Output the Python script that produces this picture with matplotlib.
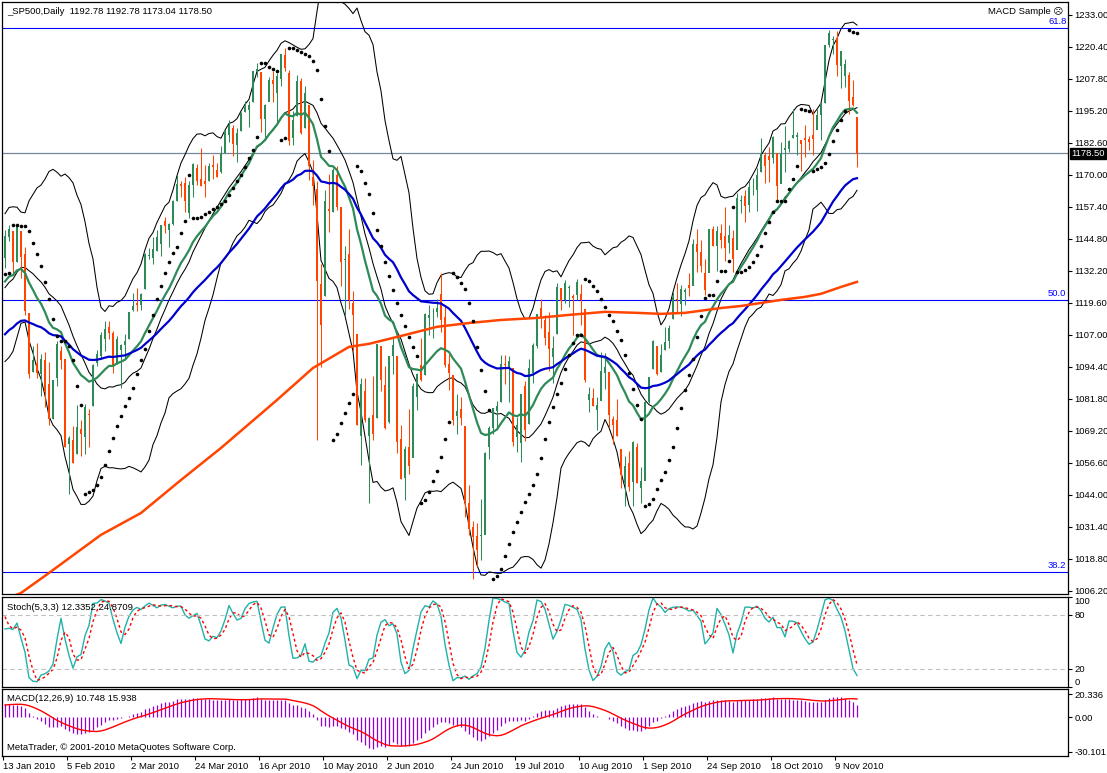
import numpy as np
import pandas as pd
import matplotlib
matplotlib.use("Agg")
import matplotlib.pyplot as plt

plt.rcParams['font.family'] = ['Liberation Sans', 'DejaVu Sans']

# daily bars 13 Jan 2010 .. 16 Nov 2010
opens = [1137.3, 1145.7, 1147.7, 1136.0, 1147.9, 1138.7, 1115.5, 1092.4, 1095.8, 1091.9, 1096.9, 1087.6,
         1073.9, 1090.1, 1100.7, 1097.3, 1064.1, 1065.5, 1060.1, 1069.7, 1067.1, 1075.9, 1079.1, 1096.1,
         1099.0, 1105.5, 1110.0, 1107.5, 1095.9, 1101.2, 1103.1,
         1105.4, 1117.0, 1119.4, 1119.1, 1125.1, 1138.4, 1137.6, 1140.2, 1143.0, 1151.7, 1148.5, 1150.8,
         1159.9, 1166.1, 1166.7, 1155.3, 1166.0, 1172.7, 1168.4, 1167.6, 1167.7, 1173.8, 1171.8,
         1171.2, 1178.7, 1186.0, 1188.2, 1181.8, 1187.5, 1194.9, 1195.9, 1198.7, 1210.8, 1210.2, 1192.1,
         1199.0, 1207.2, 1202.5, 1207.9, 1217.1, 1209.9, 1184.6, 1193.3, 1206.8,
         1188.6, 1197.5, 1169.2, 1164.4, 1127.0, 1122.3, 1156.4, 1155.4, 1170.0, 1157.2, 1136.5, 1138.8,
         1119.6, 1107.3, 1067.3, 1084.8, 1067.4, 1075.5, 1074.3, 1102.6,
         1087.3, 1073.0, 1098.8, 1098.4, 1065.8, 1050.8, 1062.8, 1058.8, 1082.7, 1095.0, 1091.2, 1114.0,
         1116.0, 1116.2, 1122.8, 1113.9, 1095.6, 1090.9, 1075.1, 1077.5, 1071.1, 1040.6,
         1031.1, 1027.7, 1028.1, 1028.5, 1062.9, 1070.5, 1077.2, 1080.7, 1095.6, 1094.5, 1093.9, 1066.9,
         1064.5, 1086.7, 1072.1, 1092.2, 1102.9, 1117.4, 1112.8, 1108.1, 1098.4,
         1107.5, 1125.3, 1121.0, 1125.8, 1122.1, 1122.8, 1122.9, 1116.9, 1081.5, 1082.2, 1077.5, 1081.2,
         1092.1, 1092.4, 1073.6, 1073.4, 1062.0, 1049.0, 1056.3, 1049.3, 1062.9, 1046.9,
         1049.7, 1080.7, 1093.6, 1102.6, 1092.4, 1101.2, 1104.6, 1113.4, 1121.2, 1119.4, 1123.9, 1126.4,
         1126.6, 1142.8, 1139.5, 1131.1, 1131.7, 1148.6, 1142.3, 1146.8, 1146.0,
         1143.5, 1145.0, 1140.7, 1159.8, 1161.6, 1158.4, 1165.3, 1164.3, 1171.3, 1177.8, 1177.5, 1176.8,
         1178.6, 1166.7, 1179.8, 1180.5, 1184.7, 1184.9, 1183.8, 1184.5, 1183.9,
         1185.7, 1187.9, 1193.8, 1198.3, 1221.2, 1223.2, 1223.6, 1213.1, 1209.1, 1209.1, 1200.4, 1192.78]
highs = [1148.4, 1150.4, 1147.8, 1149.9, 1147.9, 1141.6, 1115.5, 1102.7, 1103.7, 1099.5, 1100.2, 1096.5,
         1089.4, 1104.7, 1102.7, 1097.3, 1067.1, 1071.2, 1079.3, 1073.7, 1080.0, 1077.8, 1095.7, 1101.0,
         1108.2, 1112.4, 1112.3, 1108.6, 1106.4, 1103.5, 1107.2,
         1116.1, 1123.5, 1125.6, 1123.7, 1139.4, 1141.1, 1145.4, 1148.3, 1150.3, 1153.4, 1151.0, 1160.3,
         1169.8, 1167.8, 1169.2, 1167.8, 1174.7, 1174.2, 1180.7, 1173.9, 1174.9, 1177.8, 1174.6,
         1181.4, 1187.7, 1191.8, 1189.6, 1188.6, 1194.7, 1199.2, 1199.0, 1210.7, 1213.9, 1210.2, 1197.9,
         1208.6, 1211.0, 1210.3, 1217.3, 1219.8, 1211.4, 1195.1, 1209.4, 1208.0,
         1205.1, 1197.5, 1176.0, 1167.6, 1135.1, 1163.9, 1170.5, 1172.9, 1173.6, 1157.2, 1141.9, 1148.7,
         1124.3, 1107.3, 1090.2, 1090.0, 1074.8, 1090.8, 1103.5, 1102.6,
         1094.8, 1098.6, 1105.7, 1098.4, 1071.4, 1063.2, 1077.7, 1087.9, 1092.0, 1105.9, 1115.6, 1118.7,
         1117.7, 1121.0, 1131.2, 1118.5, 1099.6, 1090.9, 1083.6, 1082.6, 1071.1, 1048.1,
         1033.6, 1032.9, 1042.5, 1060.9, 1071.3, 1078.2, 1080.8, 1099.1, 1099.1, 1098.7, 1093.9, 1074.7,
         1083.9, 1089.0, 1097.5, 1103.7, 1115.0, 1121.0, 1114.7, 1115.9, 1106.4,
         1127.3, 1125.4, 1128.8, 1126.6, 1123.1, 1129.2, 1127.2, 1116.9, 1086.7, 1086.3, 1082.6, 1100.1,
         1099.8, 1092.4, 1075.1, 1081.6, 1062.0, 1059.4, 1061.5, 1065.2, 1064.4, 1055.1,
         1081.3, 1090.1, 1105.1, 1102.6, 1103.3, 1110.3, 1110.9, 1123.9, 1127.4, 1126.5, 1125.4, 1131.5,
         1144.9, 1148.6, 1144.4, 1136.8, 1148.9, 1149.9, 1150.0, 1150.8, 1157.2,
         1150.3, 1148.2, 1162.8, 1162.3, 1163.9, 1167.7, 1168.7, 1172.6, 1184.4, 1178.9, 1181.2, 1185.5,
         1178.6, 1182.9, 1189.4, 1183.9, 1196.1, 1187.1, 1183.8, 1189.5, 1185.5,
         1195.8, 1195.9, 1198.3, 1221.3, 1227.1, 1224.6, 1226.8, 1218.8, 1215.5, 1210.5, 1207.4, 1192.78]
lows = [1133.2, 1143.8, 1131.4, 1135.8, 1129.3, 1114.8, 1090.2, 1092.4, 1089.9, 1083.1, 1078.5, 1071.6,
        1073.9, 1087.0, 1093.5, 1063.0, 1044.5, 1056.5, 1060.1, 1059.3, 1060.1, 1063.0, 1079.1, 1094.7,
        1097.5, 1100.8, 1105.4, 1092.2, 1095.5, 1086.0, 1097.6,
        1105.4, 1116.5, 1116.6, 1116.7, 1125.1, 1136.8, 1134.9, 1140.1, 1138.1, 1147.0, 1141.5, 1150.4,
        1159.9, 1161.2, 1155.3, 1152.9, 1161.2, 1166.0, 1165.7, 1161.5, 1167.7, 1168.5, 1169.3,
        1170.7, 1178.7, 1182.8, 1177.3, 1175.1, 1187.2, 1194.7, 1188.8, 1198.7, 1208.5, 1186.8, 1183.7,
        1199.0, 1198.9, 1190.2, 1205.1, 1211.1, 1181.6, 1181.8, 1193.3, 1186.3,
        1188.6, 1168.1, 1158.2, 1065.8, 1094.2, 1122.3, 1147.7, 1155.4, 1156.1, 1126.1, 1115.0, 1117.2,
        1100.7, 1071.6, 1055.9, 1072.7, 1040.8, 1065.6, 1074.3, 1084.8,
        1069.9, 1072.4, 1091.8, 1060.5, 1050.3, 1042.2, 1052.3, 1058.8, 1077.5, 1089.0, 1091.2, 1107.1,
        1105.9, 1113.9, 1108.2, 1094.2, 1085.3, 1071.6, 1067.9, 1071.5, 1035.2, 1028.3,
        1010.9, 1015.9, 1018.4, 1028.5, 1058.2, 1068.1, 1070.5, 1080.7, 1087.7, 1080.5, 1063.3, 1061.1,
        1056.9, 1065.3, 1072.1, 1087.9, 1101.8, 1109.8, 1103.1, 1092.8, 1088.0,
        1107.5, 1116.8, 1119.5, 1118.0, 1107.0, 1120.9, 1111.0, 1088.6, 1076.7, 1079.0, 1069.5, 1081.2,
        1085.8, 1070.7, 1063.9, 1067.1, 1046.7, 1039.8, 1045.4, 1039.7, 1048.8, 1040.9,
        1049.7, 1080.4, 1093.6, 1091.2, 1092.4, 1101.2, 1101.7, 1113.4, 1115.6, 1114.6, 1118.9, 1122.4,
        1126.6, 1131.9, 1131.6, 1122.8, 1131.7, 1142.0, 1132.1, 1141.1, 1136.1,
        1139.4, 1131.9, 1140.7, 1154.9, 1151.4, 1155.6, 1162.0, 1155.7, 1171.3, 1166.7, 1167.1, 1174.6,
        1159.7, 1166.7, 1171.2, 1179.0, 1184.7, 1177.7, 1171.7, 1177.1, 1179.7,
        1177.7, 1187.9, 1183.6, 1198.3, 1220.3, 1217.5, 1208.9, 1204.3, 1204.5, 1194.1, 1197.2, 1173.04]
closes = [1145.7, 1148.5, 1136.0, 1150.2, 1138.0, 1116.5, 1091.8, 1096.8, 1092.2, 1097.5, 1084.5, 1073.9,
          1089.2, 1103.3, 1097.3, 1063.1, 1066.2, 1056.7, 1070.5, 1068.1, 1078.5, 1075.5, 1094.9, 1099.5,
          1106.8, 1109.2, 1108.0, 1094.6, 1105.2, 1102.9, 1104.5,
          1115.7, 1118.3, 1118.8, 1123.0, 1138.7, 1138.5, 1140.5, 1145.6, 1150.2, 1150.0, 1150.5, 1159.5,
          1166.2, 1165.8, 1159.9, 1165.8, 1174.2, 1167.7, 1165.7, 1166.6, 1173.2, 1173.3, 1169.4,
          1178.1, 1187.4, 1189.4, 1182.5, 1186.4, 1194.4, 1196.5, 1197.3, 1210.7, 1211.7, 1192.1, 1197.5,
          1207.2, 1205.9, 1208.7, 1217.3, 1212.1, 1183.7, 1191.4, 1206.8, 1186.7,
          1202.3, 1173.6, 1165.9, 1128.2, 1110.9, 1159.7, 1155.8, 1171.7, 1157.4, 1135.7, 1136.9, 1120.8,
          1115.1, 1071.6, 1087.7, 1073.7, 1074.0, 1068.0, 1103.1, 1089.4,
          1070.7, 1098.4, 1102.8, 1064.9, 1050.5, 1062.0, 1055.7, 1086.8, 1091.6, 1089.6, 1115.2, 1114.6,
          1116.0, 1117.5, 1113.2, 1095.3, 1092.0, 1073.7, 1076.8, 1074.6, 1041.2, 1030.7,
          1027.4, 1022.6, 1028.1, 1060.3, 1070.3, 1078.0, 1078.8, 1095.3, 1095.2, 1096.5, 1064.9, 1071.3,
          1083.5, 1069.6, 1093.7, 1102.7, 1115.0, 1113.8, 1106.1, 1101.5, 1101.6,
          1125.9, 1120.5, 1127.2, 1125.8, 1121.6, 1127.8, 1121.1, 1089.5, 1083.6, 1079.3, 1079.4, 1092.5,
          1094.2, 1075.6, 1071.7, 1067.4, 1051.9, 1055.3, 1047.2, 1064.6, 1048.9, 1049.3,
          1080.3, 1090.1, 1104.5, 1091.8, 1098.9, 1104.2, 1109.6, 1121.9, 1121.1, 1125.1, 1124.7, 1125.6,
          1142.7, 1139.8, 1134.3, 1124.8, 1148.7, 1142.2, 1147.7, 1144.7, 1141.2,
          1146.2, 1137.0, 1160.8, 1160.0, 1158.1, 1165.2, 1165.3, 1169.8, 1178.1, 1173.8, 1176.2, 1184.7,
          1165.9, 1178.2, 1180.3, 1183.1, 1185.6, 1185.6, 1182.5, 1183.8, 1183.3,
          1184.4, 1193.6, 1198.0, 1221.1, 1225.9, 1223.3, 1213.4, 1218.7, 1213.5, 1199.2, 1197.8, 1178.50]

# closes before 13 Jan (28 Oct 2009 .. 12 Jan 2010), used to warm up the averages
hist_closes = [1042.6, 1066.1, 1036.2,
               1042.9, 1045.4, 1046.5, 1066.6, 1069.3, 1093.1, 1093.0, 1098.5, 1087.2, 1093.5, 1109.3,
               1110.3, 1109.8, 1094.9, 1091.4, 1106.2, 1105.7, 1110.6, 1091.5, 1095.6,
               1108.9, 1109.2, 1099.9, 1106.0, 1103.3, 1091.9, 1096.0, 1102.4, 1106.4, 1114.1, 1107.9,
               1109.2, 1096.1, 1102.5, 1114.1, 1118.0, 1120.6, 1126.5, 1127.8, 1126.2, 1126.4, 1115.1,
               1133.0, 1136.5, 1137.1, 1141.7, 1145.0, 1147.0, 1136.2]
hist_highs = [1127.6, 1133.9, 1136.6, 1139.2, 1142.5, 1145.4, 1149.7, 1143.0]
hist_lows = [1114.8, 1116.6, 1129.7, 1133.9, 1131.3, 1136.2, 1138.7, 1131.4]

# 200-day average (bar index, value)
ma200_bars = [0, 4, 11, 24, 34, 44, 54, 68, 77, 86, 91, 100, 108, 116, 124, 133, 141, 150, 158, 164,
              170, 179, 184, 194, 200, 204, 209, 213]
ma200_vals = [1003.0, 1005.4, 1013.3, 1028.3, 1036.9, 1049.9, 1062.5, 1081.4, 1094.0, 1102.3, 1103.5,
              1107.0, 1110.2, 1111.7, 1112.9, 1113.7, 1114.9, 1116.1, 1115.7, 1115.3, 1115.7, 1117.6,
              1118.4, 1120.8, 1122.0, 1123.2, 1125.9, 1127.9]

fib_levels = [1227.9, 1120.8, 1013.7]
fib_labels = ['61.8', '50.0', '38.2']
last_price = 1178.50

date_labels = ['13 Jan 2010', '5 Feb 2010', '2 Mar 2010', '24 Mar 2010', '16 Apr 2010', '10 May 2010',
               '2 Jun 2010', '24 Jun 2010', '19 Jul 2010', '10 Aug 2010', '1 Sep 2010', '24 Sep 2010',
               '18 Oct 2010', '9 Nov 2010']
price_ticks = [1006.2 + 12.6 * k for k in range(19)]

n = len(closes)
nh = len(hist_closes)
idx = np.arange(n)
o = np.array(opens)
h = np.array(highs)
l = np.array(lows)
c = np.array(closes)

# indicators
s = pd.Series(hist_closes + closes)
ema50 = s.ewm(span=50, adjust=False).mean().values[nh:]
mid = s.rolling(20).mean()
sd = s.rolling(20).std(ddof=0)
bb_up = (mid + 2 * sd).values[nh:]
bb_lo = (mid - 2 * sd).values[nh:]
bb_mid = mid.values[nh:]
ema20 = s.ewm(span=20, adjust=False).mean().values[nh:]
macd = (s.ewm(span=12, adjust=False).mean() - s.ewm(span=26, adjust=False).mean())
signal = macd.rolling(9).mean().values[nh:]
macd = macd.values[nh:]

k_h = pd.Series(hist_highs + highs)
k_l = pd.Series(hist_lows + lows)
k_c = pd.Series(hist_closes[-len(hist_highs):] + closes)
hh = k_h.rolling(5).max()
ll = k_l.rolling(5).min()
stoch_k = ((k_c - ll).rolling(3).sum() / (hh - ll).rolling(3).sum() * 100)
stoch_d = stoch_k.rolling(3).mean().values[len(hist_highs):]
stoch_k = stoch_k.values[len(hist_highs):]


def parabolic_sar(h, l, sar0, step=0.02, max_af=0.2):
    sar = np.zeros(len(h))
    sar[0] = sar0
    trend, af, ep = 1, step, h[0]
    for i in range(1, len(h)):
        v = sar[i - 1] + af * (ep - sar[i - 1])
        if trend > 0:
            v = min(v, l[i - 1], l[max(i - 2, 0)])
            if l[i] < v:
                trend, v, ep, af = -1, ep, l[i], step
            elif h[i] > ep:
                ep, af = h[i], min(af + step, max_af)
        else:
            v = max(v, h[i - 1], h[max(i - 2, 0)])
            if h[i] > v:
                trend, v, ep, af = 1, ep, h[i], step
            elif l[i] < ep:
                ep, af = l[i], min(af + step, max_af)
        sar[i] = v
    return sar


sar = parabolic_sar(h, l, 1131.0)

W, H = 1107, 773
fig = plt.figure(figsize=(W / 100, H / 100), dpi=100)


def px_axes(x0, y0, x1, y1):
    return fig.add_axes([x0 / W, 1 - y1 / H, (x1 - x0) / W, (y1 - y0) / H])


ax = px_axes(2, 2, 1068, 594)
ax_st = px_axes(2, 597, 1068, 687)
ax_m = px_axes(2, 689, 1068, 756)
xlim = (-0.75, 265.75)
fs = 6.8

bull_c = '#2E8B57'
bear_c = '#FF4500'

# candles
up = c >= o
cols = np.where(up, bull_c, bear_c)
ax.vlines(idx, l, h, colors=cols, lw=0.75, zorder=3)
ax.bar(idx, np.abs(c - o) + 0.3, bottom=np.minimum(o, c) - 0.15, width=0.7, color=cols, lw=0, zorder=4)

ax.plot(idx, bb_up, color='black', lw=0.75, zorder=2)
ax.plot(idx, bb_lo, color='black', lw=0.75, zorder=2)
ax.plot(idx, bb_mid, color='black', lw=0.75, zorder=2)
ax.plot(idx, ema20, color=bull_c, lw=1.6, zorder=5)
ax.plot(idx, ema50, color='#0000CD', lw=1.6, zorder=5)
ax.plot(ma200_bars, ma200_vals, color=bear_c, lw=1.8, zorder=5)
ax.plot(idx, sar, 'o', color='black', ms=2.6, mew=0, zorder=6)

for lev, lab in zip(fib_levels, fib_labels):
    ax.axhline(lev, color='#0000FF', lw=0.8, zorder=1)
    ax.text(0.9985, lev + 0.8, lab, transform=ax.get_yaxis_transform(), ha='right', va='bottom',
            color='#0000FF', fontsize=fs)
ax.axhline(last_price, color='#778899', lw=0.9, zorder=1)
ax.text(1.003, last_price, '%.2f' % last_price, transform=ax.get_yaxis_transform(), ha='left',
        va='center', color='white', fontsize=fs,
        bbox=dict(boxstyle='square,pad=0.12', fc='black', ec='black'))

ax.set_xlim(*xlim)
ax.set_ylim(1005.0, 1238.1)
ax.set_xticks([])
ax.yaxis.tick_right()
ax.set_yticks(price_ticks)
ax.set_yticklabels(['%.2f' % v for v in price_ticks])

# stochastic
ax_st.plot(idx, stoch_k, color='#20B2AA', lw=1.0)
ax_st.plot(idx, stoch_d, color='red', lw=1.0, ls=(0, (2, 2)))
for lev in (20, 80):
    ax_st.axhline(lev, color='#C0C0C0', lw=0.8, ls=(0, (4, 3)))
ax_st.set_xlim(*xlim)
ax_st.set_ylim(0, 100)
ax_st.set_xticks([])
ax_st.yaxis.tick_right()
ax_st.set_yticks([0, 20, 80, 100])
ax_st.set_yticklabels(['0', '20', '80', '100'])
st_labels = ax_st.get_yticklabels()
st_labels[0].set_va('bottom')
st_labels[3].set_va('top')
ax_st.text(0.005, 0.93, 'Stoch(5,3,3) 12.3352 24.8709', transform=ax_st.transAxes, ha='left', va='top',
           fontsize=fs)

# MACD
ax_m.vlines(idx, 0, macd, colors='#9400D3', lw=0.9)
ax_m.plot(idx, signal, color='red', lw=1.0)
ax_m.set_xlim(*xlim)
ax_m.set_ylim(-33.6, 24.7)
ax_m.yaxis.tick_right()
ax_m.set_yticks([20.336, 0, -30.101])
ax_m.set_yticklabels(['20.336', '0.00', '-30.101'])
ax_m.text(0.005, 0.93, 'MACD(12,26,9) 10.748 15.938', transform=ax_m.transAxes, ha='left', va='top',
          fontsize=fs)
ax_m.text(0.005, 0.06, 'MetaTrader, \u00a9 2001-2010 MetaQuotes Software Corp.', transform=ax_m.transAxes,
          ha='left', va='bottom', fontsize=fs)
ax_m.set_xticks([16 * k - 0.5 for k in range(len(date_labels))])
ax_m.set_xticklabels(date_labels, ha='left')

for a in (ax, ax_st, ax_m):
    for sp in a.spines.values():
        sp.set_linewidth(0.9)
    a.tick_params(axis='y', direction='out', length=3, width=0.8, pad=1.5, labelsize=fs)
    a.tick_params(axis='x', direction='out', length=3, width=0.8, pad=1.5, labelsize=fs)

fig.text(7 / W, 1 - 11 / H, '_SP500,Daily  1192.78 1192.78 1173.04 1178.50', ha='left', va='center',
         fontsize=fs)
fig.text(1063 / W, 1 - 12 / H, 'MACD Sample \u2639', ha='right', va='center', fontsize=fs)

fig.savefig('out.png', dpi=100)
